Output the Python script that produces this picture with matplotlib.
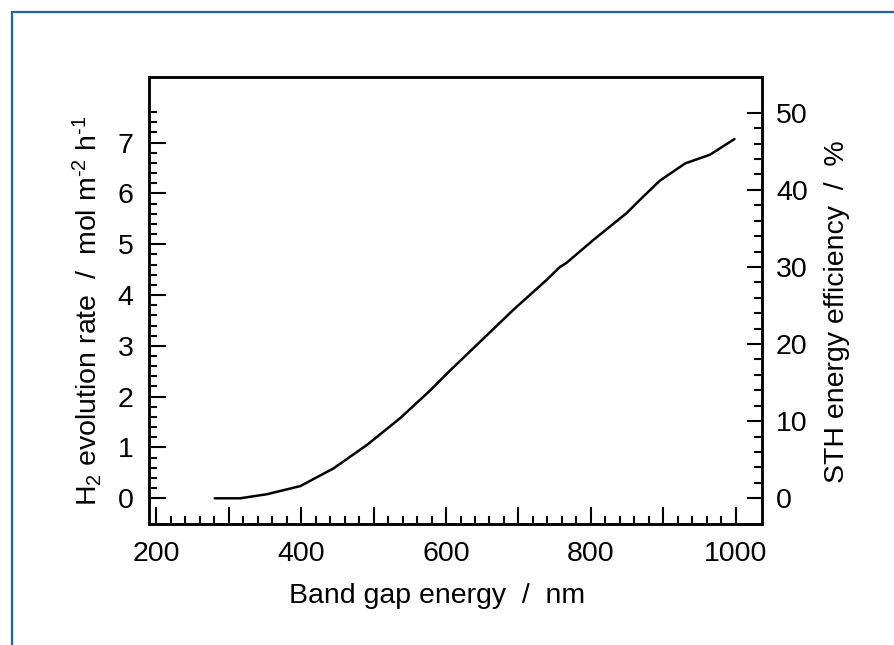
import numpy as np
import matplotlib
matplotlib.use("Agg")
import matplotlib.pyplot as plt
from matplotlib.ticker import FixedLocator, FuncFormatter
from matplotlib.patches import Rectangle

plt.rcParams["font.family"] = ["Liberation Sans", "DejaVu Sans"]
plt.rcParams["mathtext.fontset"] = "custom"
plt.rcParams["mathtext.rm"] = "Liberation Sans"
plt.rcParams["mathtext.it"] = "Liberation Sans"

# band gap (nm) vs H2 evolution rate (mol m-2 h-1)
band_gap = [281, 316, 353, 399, 445, 491, 537, 578, 601, 647, 693, 739,
            757, 766, 803, 849, 868, 895, 930, 964, 998]
h2_rate = [0.0, 0.0, 0.08, 0.24, 0.59, 1.05, 1.58, 2.12, 2.45, 3.08, 3.71, 4.30,
           4.55, 4.63, 5.08, 5.61, 5.88, 6.25, 6.59, 6.76, 7.07]

x_major = list(range(200, 1001, 100))
x_minor = [v for v in range(200, 1001, 20) if v % 100]
y_major = list(range(0, 8))
y_minor = [round(v * 0.2, 1) for v in range(0, 39) if v % 5]
r_major = list(range(0, 51, 10))
r_minor = [v for v in range(0, 51, 2) if v % 10]

fig = plt.figure(figsize=(8.95, 6.45), dpi=100)
ax = fig.add_axes([149 / 895, 1 - 524 / 645, (762 - 149) / 895, (524 - 77) / 645])

ax.plot(band_gap, h2_rate, color="black", lw=1.8, solid_capstyle="round")

ax.set_xlim(190.3, 1035.9)
ax.set_ylim(-0.506, 8.29)

ax.xaxis.set_major_locator(FixedLocator(x_major))
ax.xaxis.set_minor_locator(FixedLocator(x_minor))
ax.xaxis.set_major_formatter(FuncFormatter(lambda v, p: f"{v:.0f}" if v % 200 == 0 else ""))
ax.yaxis.set_major_locator(FixedLocator(y_major))
ax.yaxis.set_minor_locator(FixedLocator(y_minor))

for s in ax.spines.values():
    s.set_linewidth(1.8)

ax.tick_params(which="both", direction="in", top=False, right=False, width=1.5, labelsize=20.5)
ax.tick_params(which="major", length=12)
ax.tick_params(which="minor", length=5.5)
ax.tick_params(axis="x", pad=12)
ax.tick_params(axis="y", pad=11)

ax2 = ax.twinx()
ax2.set_ylim(-3.33, 54.63)
ax2.yaxis.set_major_locator(FixedLocator(r_major))
ax2.yaxis.set_minor_locator(FixedLocator(r_minor))
ax2.tick_params(which="both", direction="in", width=1.5, labelsize=20.5, pad=10)
ax2.tick_params(which="major", length=11)
ax2.tick_params(which="minor", length=5.5)
for s in ax2.spines.values():
    s.set_linewidth(1.8)

ax.set_xlabel("Band gap energy  /  nm", fontsize=20.5, labelpad=12)
ax.set_ylabel(r"H$_2$ evolution rate  /  mol m$^{\text{-}2}$ h$^{\text{-}1}$", fontsize=20.5, labelpad=10)
ax2.set_ylabel("STH energy efficiency  /  %", fontsize=20.5, labelpad=12)
ax.xaxis.label.set_x(0.47)
ax.yaxis.label.set_y(0.478)
ax2.yaxis.label.set_y(0.474)

# blue frame around the figure (only left and top edges show)
fig.add_artist(Rectangle((12 / 895, -0.1), 1.2, 1.1 - 12 / 645, transform=fig.transFigure,
                         fill=False, edgecolor="#1f64a8", lw=1.6))

fig.savefig("out.png", dpi=100)
